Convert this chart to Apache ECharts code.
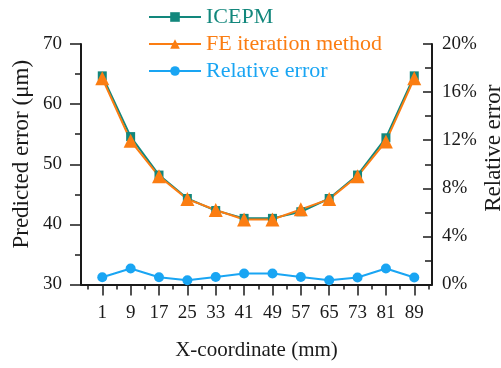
<!DOCTYPE html>
<html>
<head>
<meta charset="utf-8">
<script src="https://cdn.jsdelivr.net/npm/echarts@6/dist/echarts.min.js"></script>
<style>html,body{margin:0;padding:0;background:#fff;}#c{width:501px;height:368px;}</style>
</head>
<body>
<div id="c"></div>
<script>
const xCoords = [1, 9, 17, 25, 33, 41, 49, 57, 65, 73, 81, 89];
const icepm = [64.7, 54.6, 48.2, 44.3, 42.3, 41.0, 41.0, 42.1, 44.3, 48.2, 54.4, 64.7];
const feIteration = [64.3, 53.9, 48.0, 44.2, 42.4, 40.8, 40.8, 42.5, 44.2, 48.0, 53.8, 64.3];
const relativeError = [0.6, 1.33, 0.6, 0.36, 0.63, 0.91, 0.91, 0.63, 0.36, 0.58, 1.33, 0.58];
const xMinorTicks = [-3, 5, 13, 21, 29, 37, 45, 53, 61, 69, 77, 85, 93];
const seriesNames = ['ICEPM', 'FE iteration method', 'Relative error'];
const colors = ['#12877c', '#fb7d12', '#19a5f3'];

const font = '"Liberation Serif", "Times New Roman", serif';
const axisColor = '#1a1a1a';
const pair = (arr) => xCoords.map((x, i) => [x, arr[i]]);

const chart = echarts.init(document.getElementById('c'), null, {renderer: 'canvas'});
chart.setOption({
  animation: false,
  backgroundColor: '#fff',
  textStyle: {fontFamily: font},
  grid: {left: 81, right: 69, top: 44, bottom: 83.5, containLabel: false, outerBoundsMode: 'none'},
  legend: {
    orient: 'vertical', left: 143, top: 1,
    itemWidth: 52, itemHeight: 12, itemGap: 5,
    textStyle: {fontFamily: font, fontSize: 22},
    data: seriesNames.map((n, i) => ({name: n, textStyle: {color: colors[i]}}))
  },
  xAxis: [{
    type: 'value', min: -5, max: 94,
    name: 'X-coordinate (mm)', nameLocation: 'middle', nameGap: 55, nameMoveOverlap: false,
    nameTextStyle: {fontFamily: font, fontSize: 21, color: axisColor},
    axisLine: {show: true, onZero: false, lineStyle: {color: axisColor, width: 2}},
    axisTick: {show: true, customValues: xCoords, length: 11, lineStyle: {color: axisColor, width: 1.5}},
    axisLabel: {customValues: xCoords, margin: 19, fontFamily: font, fontSize: 19, color: axisColor},
    splitLine: {show: false}
  }, {
    type: 'value', min: -5, max: 94, position: 'bottom',
    axisLine: {show: false, onZero: false},
    axisTick: {show: true, customValues: xMinorTicks, length: 5, lineStyle: {color: axisColor, width: 1.5}},
    axisLabel: {show: false},
    splitLine: {show: false}
  }],
  yAxis: [{
    type: 'value', min: 30, max: 70, interval: 10, position: 'left',
    name: 'Predicted error (μm)', nameLocation: 'middle', nameGap: 48, nameRotate: 90, nameMoveOverlap: false,
    nameTextStyle: {fontFamily: font, fontSize: 23, color: axisColor, padding: [0, 0, 0, 20]},
    axisLine: {show: true, onZero: false, lineStyle: {color: axisColor, width: 2}},
    axisTick: {show: true, length: 11, lineStyle: {color: axisColor, width: 1.5}},
    minorTick: {show: true, splitNumber: 2, length: 6, lineStyle: {color: axisColor, width: 1.5}},
    axisLabel: {margin: 19, fontFamily: font, fontSize: 19, color: axisColor},
    splitLine: {show: false}
  }, {
    type: 'value', min: 0, max: 20, interval: 4, position: 'right',
    name: 'Relative error', nameLocation: 'middle', nameGap: 50, nameRotate: 90, nameMoveOverlap: false,
    nameTextStyle: {fontFamily: font, fontSize: 23, color: axisColor, padding: [0, 0, 0, 32]},
    axisLine: {show: true, onZero: false, lineStyle: {color: axisColor, width: 2}},
    axisTick: {show: true, inside: true, length: 9, lineStyle: {color: axisColor, width: 1.5}},
    minorTick: {show: true, splitNumber: 2, length: 7, lineStyle: {color: axisColor, width: 1.5}},
    axisLabel: {margin: 10, fontFamily: font, fontSize: 19, color: axisColor, formatter: '{value}%'},
    splitLine: {show: false}
  }],
  series: [{
    name: seriesNames[0], type: 'line', xAxisIndex: 0, yAxisIndex: 0,
    data: pair(icepm), symbol: 'rect', symbolSize: 9,
    lineStyle: {color: colors[0], width: 2}, itemStyle: {color: colors[0]}
  }, {
    name: seriesNames[1], type: 'line', xAxisIndex: 0, yAxisIndex: 0,
    data: pair(feIteration), symbol: 'triangle', symbolSize: 14,
    lineStyle: {color: colors[1], width: 2}, itemStyle: {color: colors[1]}
  }, {
    name: seriesNames[2], type: 'line', xAxisIndex: 0, yAxisIndex: 1,
    data: pair(relativeError), symbol: 'circle', symbolSize: 10,
    lineStyle: {color: colors[2], width: 2}, itemStyle: {color: colors[2]}
  }]
});
</script>
</body>
</html>
